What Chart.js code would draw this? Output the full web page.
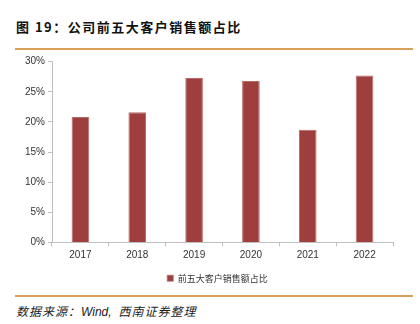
<!DOCTYPE html>
<html><head><meta charset="utf-8">
<script src="https://cdn.jsdelivr.net/npm/chart.js@4/dist/chart.umd.min.js"></script>
<style>
html,body{margin:0;padding:0;background:#fff;width:420px;height:324px;overflow:hidden;font-family:"Noto Sans CJK SC","DejaVu Sans",sans-serif;}
#wrap{position:absolute;left:0;top:0;width:420px;height:324px;}
#title{position:absolute;left:16px;top:17px;font-size:13px;font-weight:bold;letter-spacing:1.5px;color:#111;white-space:nowrap;}
.rule{position:absolute;left:15px;width:398px;height:1.5px;background:#d9a05b;}
#src{position:absolute;left:16px;top:302px;font-size:12px;font-style:italic;color:#222;white-space:nowrap;letter-spacing:1px;}
</style></head><body>
<div id="title">图 19：公司前五大客户销售额占比</div>
<div class="rule" style="top:48px"></div>
<div class="rule" style="top:295px"></div>
<div id="src">数据来源：<span style="font-family:'Liberation Sans',Arial,sans-serif;letter-spacing:0">Wind, </span>&nbsp;西南证券整理</div>
<div id="wrap"><canvas id="c" width="420" height="324"></canvas></div>
<script>
const categories = ["2017","2018","2019","2020","2021","2022"];
const seriesName = "前五大客户销售额占比";
const shareValues = [20.8, 21.6, 27.3, 26.8, 18.7, 27.7];
const yTicks = [0,5,10,15,20,25,30];

const shiftLegend = {
  id: 'shiftLegend',
  afterLayout(chart) {
    const lg = chart.legend;
    if (lg) { lg.left += 21; lg.right += 21; }
  }
};

new Chart(document.getElementById('c'), {
  type: 'bar',
  data: {
    labels: categories,
    datasets: [{
      label: seriesName,
      data: shareValues,
      backgroundColor: '#9e3f3e',
      borderColor: '#b86a68',
      borderWidth: {top:1,left:1,right:1,bottom:0},
      categoryPercentage: 1,
      barPercentage: 0.31
    }]
  },
  plugins: [shiftLegend],
  options: {
    responsive: false,
    animation: false,
    devicePixelRatio: 1,
    layout: {padding: {left: 0, top: 61.7, right: 27, bottom: 31.3}},
    plugins: {
      tooltip: {enabled: false},
      legend: {
        position: 'bottom',
        labels: {
          boxWidth: 6, boxHeight: 6, padding: 6,
          color: '#333',
          font: {size: 9, family: '"Noto Sans CJK SC", sans-serif'}
        }
      }
    },
    scales: {
      x: {
        afterFit: (s) => { s.height = 25.3; },
        grid: {display: true, drawOnChartArea: false, drawTicks: true, tickLength: 4, color: '#bfbfbf', offset: true},
        border: {color: '#bfbfbf'},
        ticks: {color: '#333', font: {size: 10, family: '"Liberation Sans", Arial, sans-serif'}, padding: 3}
      },
      y: {
        min: 0, max: 30,
        afterBuildTicks: (s) => { s.ticks = yTicks.map(v => ({value: v})); },
        afterFit: (s) => { s.width = 52; },
        grid: {display: true, drawOnChartArea: false, drawTicks: true, tickLength: 4, color: '#bfbfbf'},
        border: {color: '#bfbfbf'},
        ticks: {color: '#333', font: {size: 10, family: '"Liberation Sans", Arial, sans-serif'}, padding: 3,
          callback: (v) => v + '%'}
      }
    }
  }
});
</script>
</body></html>
